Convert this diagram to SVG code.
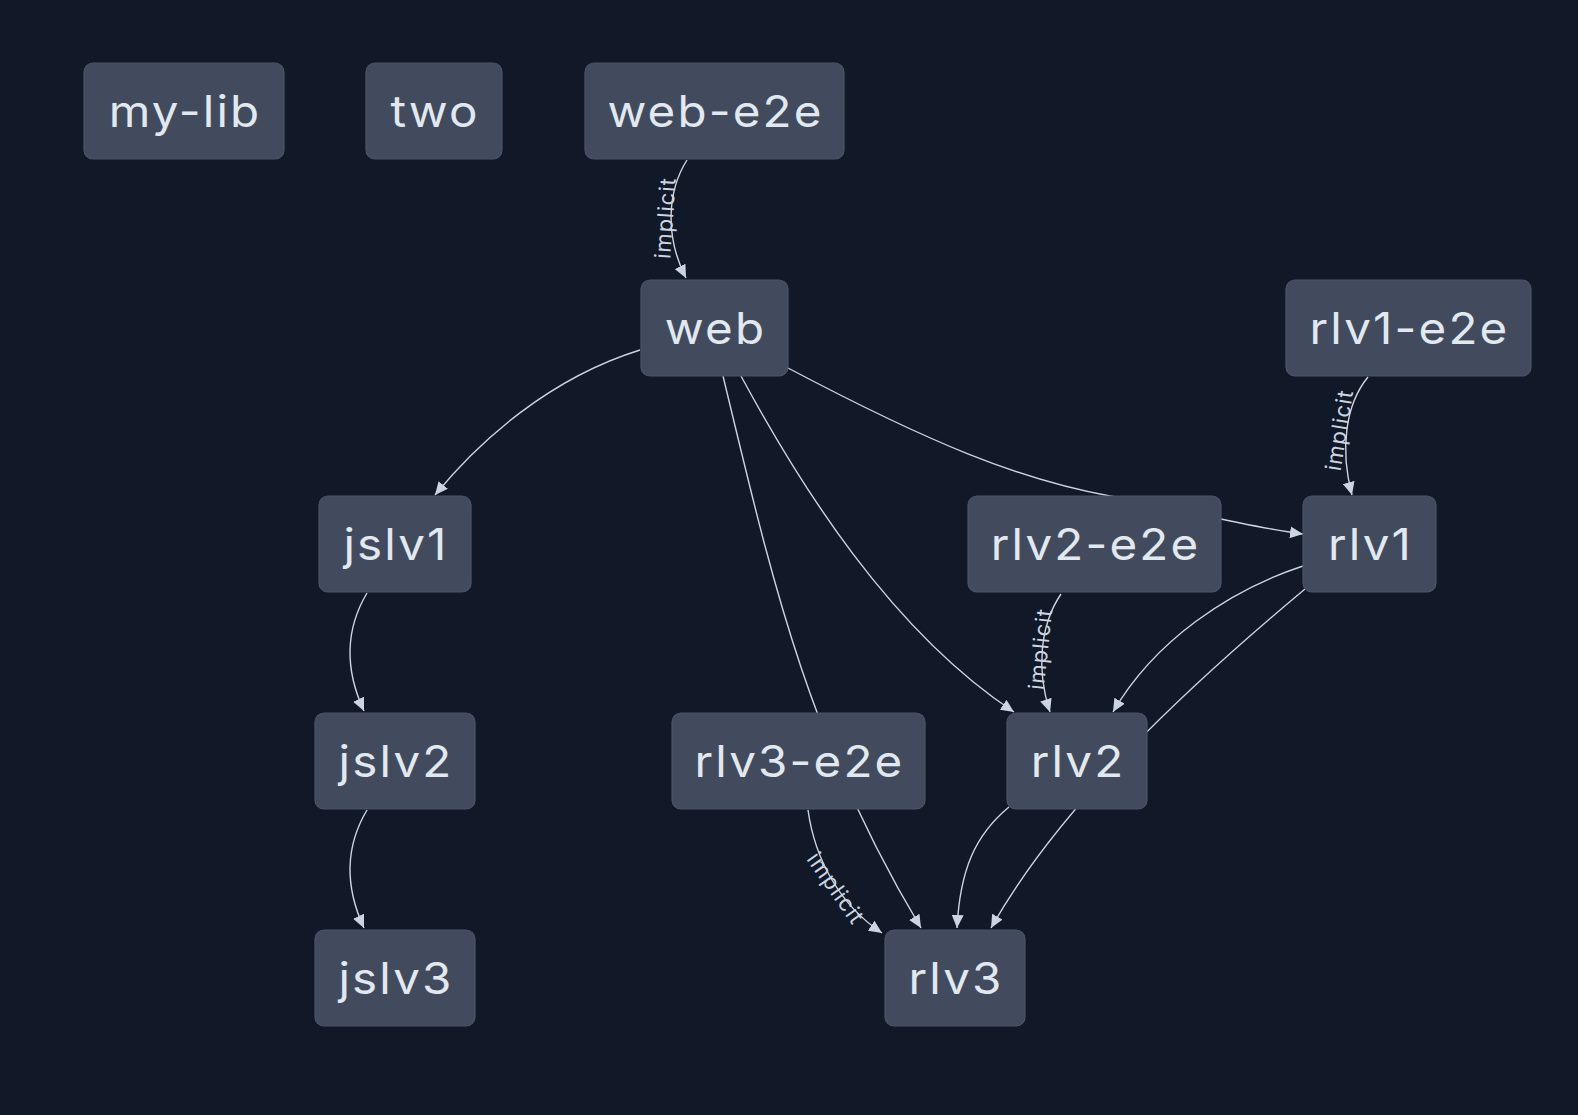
<svg xmlns="http://www.w3.org/2000/svg" width="1578" height="1115" viewBox="0 0 1578 1115">
<style>
.bg{fill:#111827}
.node rect{fill:#414b5d;stroke:#4b5567;stroke-width:1.2}
.node text{font-family:Inter,"Liberation Sans",sans-serif;font-size:44px;letter-spacing:2px;fill:#e2e8f0;text-anchor:middle}
.edge{fill:none;stroke:#cbd5e1;stroke-width:1.4}
.lbl{font-family:Inter,"Liberation Sans",sans-serif;font-size:22px;letter-spacing:1px;fill:#cbd5e1;text-anchor:middle;dominant-baseline:central}
</style>
<defs>
<marker id="arr" markerUnits="userSpaceOnUse" markerWidth="14" markerHeight="12" refX="13" refY="6" orient="auto">
<path d="M0,0 L13,6 L0,12 z" fill="#cbd5e1"/>
</marker>
</defs>
<rect class="bg" x="0" y="0" width="1578" height="1115"/>
<g id="edges">
<path class="edge" marker-end="url(#arr)" d="M687,160 C668,190 664,235 686,278"/>
<path class="edge" marker-end="url(#arr)" d="M640,350 C550,378 480,440 435,495"/>
<path class="edge" marker-end="url(#arr)" d="M741,376 C800,485 890,630 1014,712"/>
<path class="edge" marker-end="url(#arr)" d="M723,376 C770,570 805,735 921,928"/>
<path class="edge" marker-end="url(#arr)" d="M788,368 C930,443 1020,480 1110,496 C1180,508 1240,526 1303,534"/>
<path class="edge" marker-end="url(#arr)" d="M367,593 C345,630 345,670 364,711"/>
<path class="edge" marker-end="url(#arr)" d="M367,810 C345,847 345,887 364,928"/>
<path class="edge" marker-end="url(#arr)" d="M1368,377 C1345,405 1340,450 1352,495"/>
<path class="edge" marker-end="url(#arr)" d="M1061,594 C1040,625 1036,670 1050,712"/>
<path class="edge" marker-end="url(#arr)" d="M1303,566 C1230,590 1155,640 1113,712"/>
<path class="edge" marker-end="url(#arr)" d="M1305,589 C1190,685 1060,805 991,928"/>
<path class="edge" marker-end="url(#arr)" d="M1009,807 C975,835 960,870 957,928"/>
<path class="edge" marker-end="url(#arr)" d="M808,810 C815,860 840,905 882,933"/>
<text class="lbl" transform="translate(665,218) rotate(-86)">implicit</text>
<text class="lbl" transform="translate(1339,430) rotate(-81)">implicit</text>
<text class="lbl" transform="translate(1040,649) rotate(-84)">implicit</text>
<text class="lbl" transform="translate(836,888) rotate(55)">implicit</text>
</g>
<g id="my-lib" class="node"><rect x="84" y="63" width="200" height="96" rx="9"/><text transform="translate(185,127) scale(1.08,1)">my-lib</text></g>
<g id="two" class="node"><rect x="366" y="63" width="136" height="96" rx="9"/><text transform="translate(435,127) scale(1.08,1)">two</text></g>
<g id="web-e2e" class="node"><rect x="585" y="63" width="259" height="96" rx="9"/><text transform="translate(715.5,127) scale(1.08,1)">web-e2e</text></g>
<g id="web" class="node"><rect x="641" y="280" width="147" height="96" rx="9"/><text transform="translate(715.5,344) scale(1.08,1)">web</text></g>
<g id="rlv1-e2e" class="node"><rect x="1286" y="280" width="245" height="96" rx="9"/><text transform="translate(1409.5,344) scale(1.08,1)">rlv1-e2e</text></g>
<g id="jslv1" class="node"><rect x="319" y="496" width="152" height="96" rx="9"/><text transform="translate(396,560) scale(1.08,1)">jslv1</text></g>
<g id="rlv2-e2e" class="node"><rect x="968" y="496" width="253" height="96" rx="9"/><text transform="translate(1095.5,560) scale(1.08,1)">rlv2-e2e</text></g>
<g id="rlv1" class="node"><rect x="1303" y="496" width="133" height="96" rx="9"/><text transform="translate(1370.5,560) scale(1.08,1)">rlv1</text></g>
<g id="jslv2" class="node"><rect x="315" y="713" width="160" height="96" rx="9"/><text transform="translate(396,777) scale(1.08,1)">jslv2</text></g>
<g id="rlv3-e2e" class="node"><rect x="672" y="713" width="253" height="96" rx="9"/><text transform="translate(799.5,777) scale(1.08,1)">rlv3-e2e</text></g>
<g id="rlv2" class="node"><rect x="1007" y="713" width="140" height="96" rx="9"/><text transform="translate(1078,777) scale(1.08,1)">rlv2</text></g>
<g id="jslv3" class="node"><rect x="315" y="930" width="160" height="96" rx="9"/><text transform="translate(396,994) scale(1.08,1)">jslv3</text></g>
<g id="rlv3" class="node"><rect x="885" y="930" width="140" height="96" rx="9"/><text transform="translate(956,994) scale(1.08,1)">rlv3</text></g>
</svg>
